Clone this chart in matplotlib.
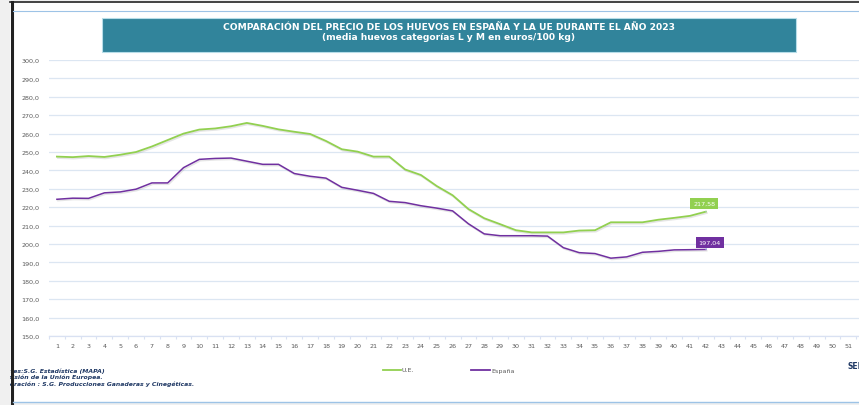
import matplotlib.pyplot as plt
import matplotlib.patheffects as pe
from matplotlib.patches import Rectangle
from matplotlib.lines import Line2D

# semanas y precios (euros/100 kg)
semanas = list(range(1, 53))
ue = [247.5, 247.2, 247.8, 247.3, 248.5, 250.0, 253.0, 256.5, 260.0, 262.2,
      262.8, 264.0, 265.8, 264.2, 262.3, 261.0, 259.8, 256.0, 251.5, 250.2,
      247.5, 247.5, 240.5, 237.5, 231.5, 226.5, 219.0, 214.0, 210.8, 207.5,
      206.3, 206.3, 206.3, 207.3, 207.5, 211.8, 211.8, 211.8, 213.2, 214.2,
      215.3, 217.58]
espana = [224.3, 224.9, 224.8, 227.8, 228.3, 229.8, 233.2, 233.2, 241.5, 246.0,
          246.5, 246.7, 245.0, 243.3, 243.3, 238.3, 236.8, 235.8, 230.8, 229.2,
          227.5, 223.2, 222.5, 220.8, 219.5, 218.0, 211.0, 205.5, 204.5, 204.5,
          204.5, 204.3, 198.0, 195.3, 194.8, 192.3, 193.0, 195.5, 196.0, 196.8,
          196.9, 197.04]
y_ticks = [150 + 10 * i for i in range(16)]

verde = "#92D050"
morado = "#7030A0"
azul_txt = "#1F3864"

fig = plt.figure(figsize=(8.59, 4.06), dpi=100)
fig.patch.set_facecolor("white")

ax = fig.add_axes([49 / 859, 1 - 337 / 406, (872 - 49) / 859, (337 - 61) / 406])
ax.set_facecolor("none")

sombra = [pe.SimpleLineShadow(offset=(0.7, -1), shadow_color="#999999", alpha=0.25),
          pe.Normal()]
x_ue = semanas[:len(ue)]
x_es = semanas[:len(espana)]
ax.plot(x_ue, ue, color=verde, lw=1.3, path_effects=sombra, zorder=3)
ax.plot(x_es, espana, color=morado, lw=1.1, path_effects=sombra, zorder=3)

ax.set_xlim(0.5, 52.5)
ax.set_ylim(150, 300)
ax.set_yticks(y_ticks)
ax.set_yticklabels([f"{v:.1f}".replace(".", ",") for v in y_ticks])
ax.set_xticks(semanas)
ax.set_xticklabels([str(s) for s in semanas])
ax.tick_params(axis="y", length=0, labelsize=4.6, labelcolor="#595959", pad=7)
ax.tick_params(axis="x", length=0, labelsize=4.6, labelcolor="#595959", pad=5)
ax.set_xticks([s + 0.5 for s in range(0, 53)], minor=True)
ax.tick_params(axis="x", which="minor", length=2.5, color="#D9E1F2", width=0.8)
ax.grid(axis="y", color="#DCE6F2", lw=0.9)
for s in ["top", "right", "left"]:
    ax.spines[s].set_visible(False)
ax.spines["bottom"].set_color("#D9E1F2")
ax.spines["bottom"].set_linewidth(0.9)

# etiquetas de la ultima semana
ax.annotate(f"{ue[-1]:.2f}".replace(".", ","), xy=(len(ue), ue[-1]),
            xytext=(len(ue) - 0.1, ue[-1] + 4.5), ha="center", va="center",
            fontsize=4.6, color="white",
            bbox=dict(boxstyle="square,pad=0.45", fc=verde, ec="none"),
            arrowprops=dict(arrowstyle="-", color="#9DC3E6", lw=0.7), zorder=4)
ax.annotate(f"{espana[-1]:.2f}".replace(".", ","), xy=(len(espana), espana[-1]),
            xytext=(len(espana) + 0.25, espana[-1] + 3.8), ha="center", va="center",
            fontsize=4.6, color="white",
            bbox=dict(boxstyle="square,pad=0.45", fc=morado, ec="none"),
            arrowprops=dict(arrowstyle="-", color="#9DC3E6", lw=0.7), zorder=4)

# titulo en recuadro
fig.patches.append(Rectangle((102 / 859, 1 - 53 / 406), (796 - 102) / 859, 34 / 406,
                             transform=fig.transFigure, fc="#31849B", ec="#B7DDE8",
                             lw=0.8, zorder=1))
fig.text(449 / 859, 1 - 27 / 406,
         "COMPARACIÓN DEL PRECIO DE LOS HUEVOS EN ESPAÑA Y LA UE DURANTE EL AÑO 2023",
         ha="center", va="center", color="white", fontsize=6.6, fontweight="bold",
         zorder=2)
fig.text(449 / 859, 1 - 38 / 406, "(media huevos categorías L y M en euros/100 kg)",
         ha="center", va="center", color="white", fontsize=6.6, fontweight="bold",
         zorder=2)

# leyenda
fig.lines.append(Line2D([383 / 859, 401 / 859], [1 - 371 / 406] * 2,
                        transform=fig.transFigure, color=verde, lw=1.3))
fig.text(402 / 859, 1 - 371 / 406, "U.E.", ha="left", va="center", fontsize=4.6,
         color="#595959")
fig.lines.append(Line2D([471 / 859, 490 / 859], [1 - 371 / 406] * 2,
                        transform=fig.transFigure, color=morado, lw=1.3))
fig.text(491 / 859, 1 - 371 / 406, "España", ha="left", va="center", fontsize=4.6,
         color="#595959")

# fuentes (recortadas por el marco de la captura)
fuentes = ["Fuentes:S.G. Estadística (MAPA)",
           "Comisión de la Unión Europea.",
           "Elaboración : S.G. Producciones Ganaderas y Cinegéticas."]
desfase = [-6, -3, -5]
for i, (t, d) in enumerate(zip(fuentes, desfase)):
    fig.text(d / 859, 1 - (371 + 6.5 * i) / 406, t, ha="left", va="center",
             fontsize=4.4, color=azul_txt, fontweight="bold", style="italic")
fig.text(848 / 859, 1 - 367 / 406, "SEMANAS", ha="left", va="center",
         fontsize=5.5, color=azul_txt, fontweight="bold")

# marco de la captura
fig.patches.append(Rectangle((0, 0), 10 / 859, 1, transform=fig.transFigure,
                             fc="#F0F0F0", ec="none", zorder=10))
fig.patches.append(Rectangle((0, 1 - 2 / 406), 1, 2 / 406, transform=fig.transFigure,
                             fc="#F0F0F0", ec="none", zorder=10))
fig.patches.append(Rectangle((0, 0), 1, 3 / 406, transform=fig.transFigure,
                             fc="#F0F0F0", ec="none", zorder=10))
fig.lines.append(Line2D([11.5 / 859] * 2, [0, 1 - 3 / 406], transform=fig.transFigure,
                        color="#222222", lw=2.2, zorder=11))
fig.lines.append(Line2D([10 / 859, 1], [1 - 3 / 406] * 2, transform=fig.transFigure,
                        color="#222222", lw=1.2, zorder=11))
fig.lines.append(Line2D([13 / 859, 1], [1 - 12 / 406] * 2, transform=fig.transFigure,
                        color="#9DC3E6", lw=0.8, zorder=11))
fig.lines.append(Line2D([13 / 859, 1], [1 - 403 / 406] * 2, transform=fig.transFigure,
                        color="#9DC3E6", lw=1.0, zorder=11))

fig.savefig("out.png", dpi=100)
